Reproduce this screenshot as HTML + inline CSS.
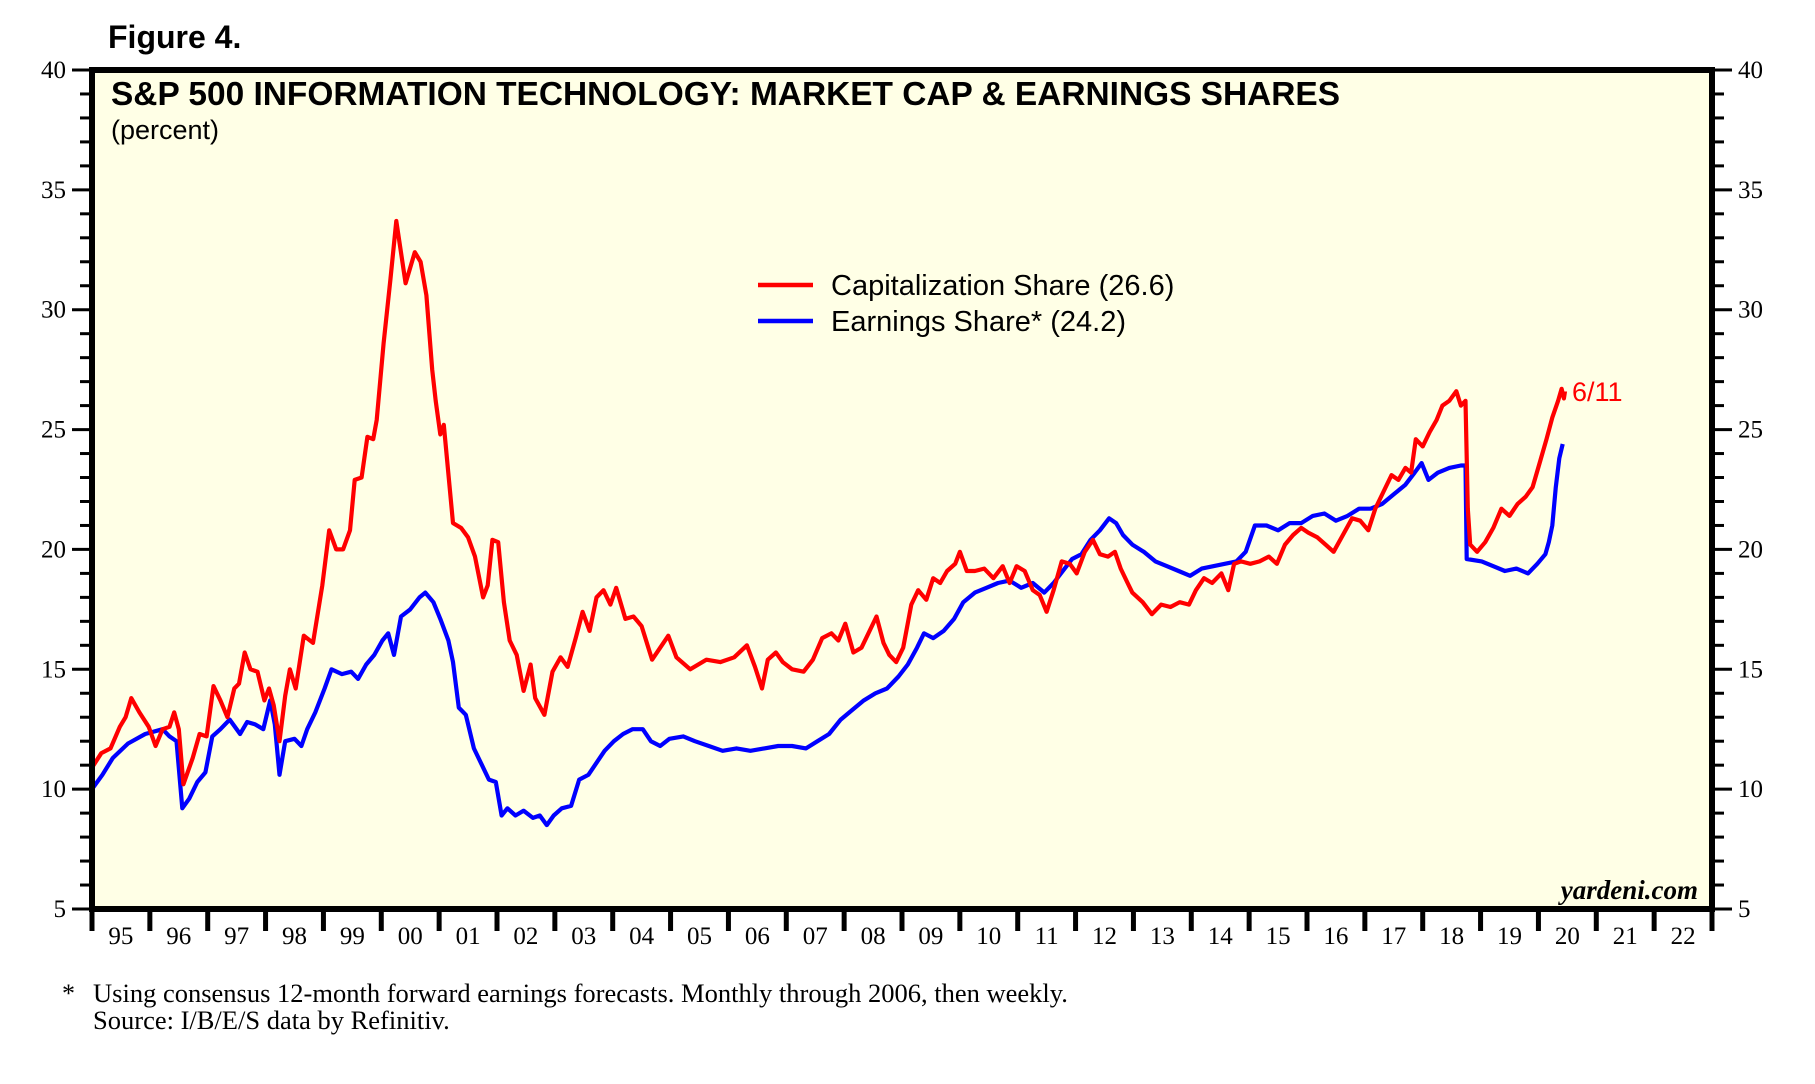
<!DOCTYPE html>
<html><head><meta charset="utf-8"><style>
body{margin:0;background:#fff;}
svg{display:block;}
</style></head><body>
<svg id="chart" width="1815" height="1084" viewBox="0 0 1815 1084" xmlns="http://www.w3.org/2000/svg">
<text x="108" y="48" font-family="Liberation Sans, sans-serif" font-weight="bold" font-size="32">Figure 4.</text>
<rect x="92" y="70" width="1620" height="839" fill="#FFFFE6"/>
<g id="grid"></g>
<g id="series"></g>
<rect x="92" y="70" width="1620" height="839" fill="none" stroke="#000" stroke-width="6"/>
<text x="111" y="105" font-family="Liberation Sans, sans-serif" font-weight="bold" font-size="33" textLength="1229" lengthAdjust="spacingAndGlyphs">S&amp;P 500 INFORMATION TECHNOLOGY: MARKET CAP &amp; EARNINGS SHARES</text>
<text x="111" y="139" font-family="Liberation Sans, sans-serif" font-size="27">(percent)</text>
<g>
<line x1="758" y1="285" x2="813" y2="285" stroke="#f00" stroke-width="4.5"/>
<text x="831" y="295" font-family="Liberation Sans, sans-serif" font-size="29">Capitalization Share (26.6)</text>
<line x1="758" y1="321" x2="813" y2="321" stroke="#00f" stroke-width="4.5"/>
<text x="831" y="331" font-family="Liberation Sans, sans-serif" font-size="29">Earnings Share* (24.2)</text>
</g>
<text x="1572" y="401" fill="#f00" font-family="Liberation Sans, sans-serif" font-size="27">6/11</text>
<text x="1698" y="899" text-anchor="end" font-family="Liberation Serif, serif" font-style="italic" font-weight="bold" font-size="27">yardeni.com</text>
<text x="62" y="1002" font-family="Liberation Serif, serif" font-size="26">*</text>
<text x="93" y="1002" font-family="Liberation Serif, serif" font-size="26.5">Using consensus 12-month forward earnings forecasts. Monthly through 2006, then weekly.</text>
<text x="93" y="1029" font-family="Liberation Serif, serif" font-size="26.5">Source: I/B/E/S data by Refinitiv.</text>
</svg>
<script>
const yTicks=[5,10,15,20,25,30,35,40];
const xYears=[1995,1996,1997,1998,1999,2000,2001,2002,2003,2004,2005,2006,2007,2008,2009,2010,2011,2012,2013,2014,2015,2016,2017,2018,2019,2020,2021,2022];
const xLabels=["95","96","97","98","99","00","01","02","03","04","05","06","07","08","09","10","11","12","13","14","15","16","17","18","19","20","21","22"];
const capDates=[1995.00,1995.16,1995.32,1995.48,1995.58,1995.68,1995.82,1995.98,1996.10,1996.22,1996.34,1996.42,1996.50,1996.58,1996.74,1996.86,1996.98,1997.10,1997.22,1997.34,1997.46,1997.54,1997.64,1997.74,1997.86,1997.98,1998.06,1998.14,1998.24,1998.34,1998.42,1998.52,1998.66,1998.82,1998.98,1999.10,1999.22,1999.34,1999.46,1999.54,1999.66,1999.76,1999.86,1999.92,2000.04,2000.16,2000.26,2000.42,2000.58,2000.68,2000.78,2000.88,2000.94,2001.02,2001.08,2001.24,2001.38,2001.50,2001.62,2001.76,2001.84,2001.92,2002.02,2002.12,2002.22,2002.34,2002.46,2002.58,2002.66,2002.82,2002.96,2003.10,2003.22,2003.36,2003.48,2003.60,2003.72,2003.84,2003.96,2004.06,2004.22,2004.36,2004.50,2004.68,2004.82,2004.96,2005.10,2005.34,2005.62,2005.86,2006.10,2006.32,2006.46,2006.58,2006.68,2006.82,2006.94,2007.10,2007.30,2007.46,2007.62,2007.78,2007.90,2008.02,2008.16,2008.30,2008.44,2008.56,2008.68,2008.78,2008.90,2009.02,2009.16,2009.28,2009.42,2009.54,2009.66,2009.78,2009.92,2010.00,2010.12,2010.26,2010.42,2010.58,2010.74,2010.86,2010.98,2011.12,2011.26,2011.38,2011.50,2011.62,2011.76,2011.90,2012.02,2012.16,2012.30,2012.42,2012.56,2012.68,2012.78,2012.90,2012.98,2013.16,2013.32,2013.48,2013.64,2013.80,2013.96,2014.08,2014.22,2014.36,2014.52,2014.64,2014.74,2014.86,2015.02,2015.18,2015.34,2015.48,2015.62,2015.76,2015.90,2016.02,2016.18,2016.32,2016.46,2016.62,2016.78,2016.92,2017.06,2017.18,2017.32,2017.46,2017.58,2017.70,2017.80,2017.88,2018.00,2018.12,2018.24,2018.34,2018.46,2018.58,2018.66,2018.74,2018.78,2018.82,2018.94,2019.08,2019.22,2019.36,2019.50,2019.64,2019.78,2019.90,2020.02,2020.14,2020.24,2020.34,2020.40,2020.44,2020.46];
const capValues=[10.9,11.5,11.7,12.6,13.0,13.8,13.2,12.6,11.8,12.5,12.6,13.2,12.5,10.2,11.3,12.3,12.2,14.3,13.7,13.0,14.2,14.4,15.7,15.0,14.9,13.7,14.2,13.5,12.0,13.9,15.0,14.2,16.4,16.1,18.5,20.8,20.0,20.0,20.8,22.9,23.0,24.7,24.6,25.4,28.6,31.3,33.7,31.1,32.4,32.0,30.6,27.5,26.2,24.8,25.2,21.1,20.9,20.5,19.7,18.0,18.5,20.4,20.3,17.8,16.2,15.6,14.1,15.2,13.8,13.1,14.9,15.5,15.1,16.3,17.4,16.6,18.0,18.3,17.7,18.4,17.1,17.2,16.8,15.4,15.9,16.4,15.5,15.0,15.4,15.3,15.5,16.0,15.1,14.2,15.4,15.7,15.3,15.0,14.9,15.4,16.3,16.5,16.2,16.9,15.7,15.9,16.6,17.2,16.1,15.6,15.3,15.9,17.7,18.3,17.9,18.8,18.6,19.1,19.4,19.9,19.1,19.1,19.2,18.8,19.3,18.6,19.3,19.1,18.3,18.1,17.4,18.3,19.5,19.4,19.0,19.9,20.4,19.8,19.7,19.9,19.2,18.6,18.2,17.8,17.3,17.7,17.6,17.8,17.7,18.3,18.8,18.6,19.0,18.3,19.4,19.5,19.4,19.5,19.7,19.4,20.2,20.6,20.9,20.7,20.5,20.2,19.9,20.6,21.3,21.2,20.8,21.7,22.4,23.1,22.9,23.4,23.2,24.6,24.3,24.9,25.4,26.0,26.2,26.6,26.0,26.2,21.7,20.2,19.9,20.3,20.9,21.7,21.4,21.9,22.2,22.6,23.6,24.6,25.5,26.2,26.7,26.3,26.6];
const earnDates=[1995.00,1995.18,1995.36,1995.62,1995.92,1996.22,1996.34,1996.46,1996.56,1996.68,1996.82,1996.96,1997.08,1997.22,1997.38,1997.56,1997.68,1997.82,1997.96,1998.08,1998.16,1998.24,1998.34,1998.50,1998.62,1998.72,1998.86,1999.02,1999.14,1999.32,1999.48,1999.60,1999.74,1999.88,2000.02,2000.12,2000.22,2000.34,2000.50,2000.66,2000.76,2000.90,2001.02,2001.16,2001.24,2001.34,2001.46,2001.60,2001.74,2001.86,2001.98,2002.08,2002.18,2002.32,2002.46,2002.62,2002.74,2002.86,2002.98,2003.12,2003.28,2003.42,2003.58,2003.72,2003.86,2004.02,2004.18,2004.34,2004.52,2004.66,2004.82,2004.98,2005.22,2005.42,2005.66,2005.90,2006.14,2006.38,2006.62,2006.86,2007.10,2007.34,2007.54,2007.74,2007.94,2008.14,2008.34,2008.54,2008.74,2008.94,2009.10,2009.26,2009.38,2009.54,2009.72,2009.90,2010.06,2010.26,2010.46,2010.66,2010.86,2011.06,2011.26,2011.46,2011.62,2011.78,2011.94,2012.10,2012.26,2012.42,2012.58,2012.70,2012.82,2012.98,2013.18,2013.38,2013.58,2013.78,2013.98,2014.18,2014.38,2014.58,2014.78,2014.94,2015.10,2015.30,2015.50,2015.70,2015.90,2016.10,2016.30,2016.50,2016.70,2016.90,2017.10,2017.30,2017.50,2017.70,2017.86,2017.98,2018.10,2018.26,2018.46,2018.66,2018.74,2018.76,2019.02,2019.22,2019.42,2019.62,2019.82,2019.98,2020.12,2020.18,2020.24,2020.30,2020.36,2020.42];
const earnValues=[10.0,10.6,11.3,11.9,12.3,12.5,12.2,12.0,9.2,9.6,10.3,10.7,12.2,12.5,12.9,12.3,12.8,12.7,12.5,13.7,12.7,10.6,12.0,12.1,11.8,12.5,13.2,14.2,15.0,14.8,14.9,14.6,15.2,15.6,16.2,16.5,15.6,17.2,17.5,18.0,18.2,17.8,17.1,16.2,15.3,13.4,13.1,11.7,11.0,10.4,10.3,8.9,9.2,8.9,9.1,8.8,8.9,8.5,8.9,9.2,9.3,10.4,10.6,11.1,11.6,12.0,12.3,12.5,12.5,12.0,11.8,12.1,12.2,12.0,11.8,11.6,11.7,11.6,11.7,11.8,11.8,11.7,12.0,12.3,12.9,13.3,13.7,14.0,14.2,14.7,15.2,15.9,16.5,16.3,16.6,17.1,17.8,18.2,18.4,18.6,18.7,18.4,18.6,18.2,18.6,19.1,19.6,19.8,20.4,20.8,21.3,21.1,20.6,20.2,19.9,19.5,19.3,19.1,18.9,19.2,19.3,19.4,19.5,19.9,21.0,21.0,20.8,21.1,21.1,21.4,21.5,21.2,21.4,21.7,21.7,21.9,22.3,22.7,23.2,23.6,22.9,23.2,23.4,23.5,23.5,19.6,19.5,19.3,19.1,19.2,19.0,19.4,19.8,20.3,21.0,22.6,23.8,24.4];

const NS="http://www.w3.org/2000/svg";
const L=92,R=1712,T=70,B=909,X0=1995,X1=2023,Y0=5,Y1=40;
const xs=v=>L+(v-X0)/(X1-X0)*(R-L);
const ys=v=>B-(v-Y0)/(Y1-Y0)*(B-T);
function mk(tag,attrs,parent){const e=document.createElementNS(NS,tag);for(const k in attrs)e.setAttribute(k,attrs[k]);parent.appendChild(e);return e;}
const grid=document.getElementById('grid');
const series=document.getElementById('series');
for(let v=Y0;v<=Y1;v++){
  const major=v%5===0;
  const len=major?20:12;
  const tl=mk('line',{x1:L-len,x2:L,y1:ys(v),y2:ys(v),stroke:'#000','stroke-width':3},grid);
  
  
  const tr=mk('line',{x1:R,x2:R+len,y1:ys(v),y2:ys(v),stroke:'#000','stroke-width':3},grid);
  
  
}
yTicks.forEach(v=>{
  const a=mk('text',{x:L-26,y:ys(v)+8,'text-anchor':'end','font-family':'Liberation Serif, serif','font-size':25},grid);
  a.textContent=v;
  
  
  const b=mk('text',{x:R+26,y:ys(v)+8,'font-family':'Liberation Serif, serif','font-size':25},grid);
  b.textContent=v;
  
  
});
for(let i=0;i<=xYears.length;i++){
  const yr=X0+i;
  const t=mk('line',{x1:xs(yr),x2:xs(yr),y1:B,y2:B+22,stroke:'#000','stroke-width':5},grid);
  
  
}
xYears.forEach((yr,i)=>{
  const t=mk('text',{x:xs(yr+0.5),y:B+35,'text-anchor':'middle','font-family':'Liberation Serif, serif','font-size':25},grid);
  t.textContent=xLabels[i];
  
  
});
function line(d,v,color,name){
  const p=d.map((x,i)=>(i?'L':'M')+xs(x).toFixed(1)+','+ys(v[i]).toFixed(1)).join('');
  const e=mk('path',{d:p,fill:'none',stroke:color,'stroke-width':4.2,'stroke-linejoin':'round'},series);
  
  
}
line(earnDates,earnValues,'#0000ff','earnings-share-line');
line(capDates,capValues,'#ff0000','capitalization-share-line');
</script>
</body></html>
